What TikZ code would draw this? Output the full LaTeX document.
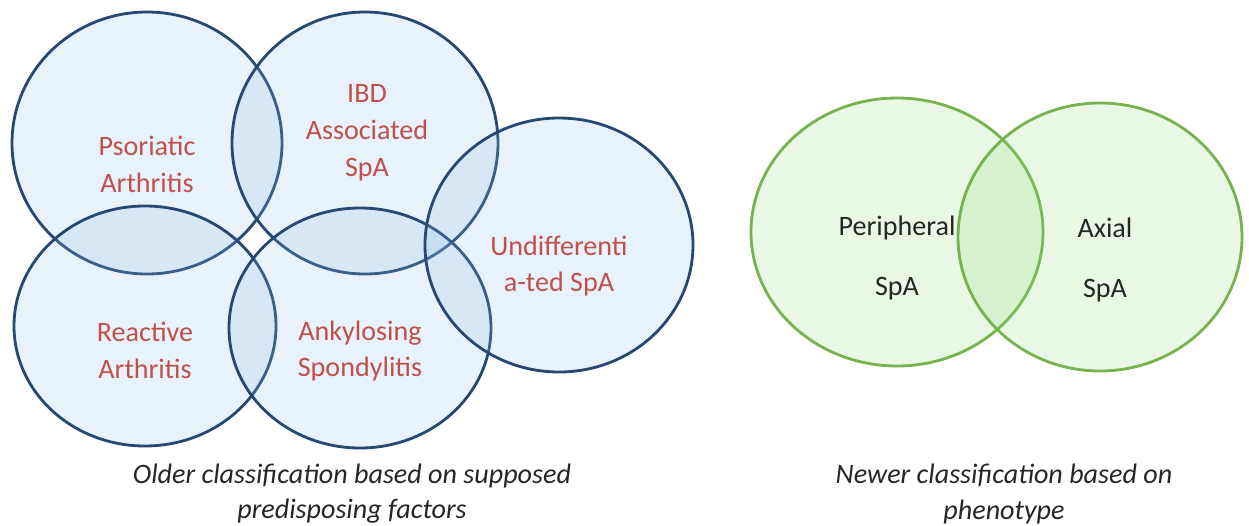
\documentclass[tikz,border=0pt]{standalone}
\usepackage{fontspec}
\setmainfont{Carlito}
\usepackage{xcolor}
\usepackage{tikz}
\usetikzlibrary{positioning}
\definecolor{vennblue}{RGB}{140,188,228}
\definecolor{vennedge}{RGB}{38,72,115}
\definecolor{venngreen}{RGB}{140,220,120}
\definecolor{greenedge}{RGB}{118,178,78}
\definecolor{labelred}{RGB}{192,80,77}
\definecolor{labeldark}{RGB}{38,38,38}

\begin{document}
\begin{tikzpicture}[
        x=0.02cm, y=-0.02cm,
        oldset/.style={draw=vennedge, line width=1.6pt, fill=vennblue, fill opacity=0.2},
        newset/.style={draw=greenedge, line width=1.6pt, fill=venngreen, fill opacity=0.2},
        oldlabel/.style={text=labelred, align=center, font=\fontsize{16}{21}\selectfont},
        newlabel/.style={text=labeldark, align=center, font=\fontsize{16}{34}\selectfont},
        caption/.style={text=labeldark, align=center, font=\fontsize{16}{20}\selectfont\itshape}
    ]
        \useasboundingbox (0,0) rectangle (1249,525);

        % older classification
        \draw[oldset] (147,143) ellipse [x radius=135, y radius=131];
        \draw[oldset] (365,143) ellipse [x radius=133, y radius=131];
        \draw[oldset] (145,326) ellipse [x radius=131, y radius=120];
        \draw[oldset] (360,328) ellipse [x radius=131, y radius=120];
        \draw[oldset] (559,245) ellipse [x radius=134, y radius=127];

        \node[oldlabel] (psa) at (147,164) {Psoriatic\\Arthritis};
        \node[oldlabel] (ibd) at (367,133) {IBD\\Associated\\SpA};
        \node[oldlabel] (react) at (145,350) {Reactive\\Arthritis};
        \node[oldlabel] (ankyl) at (360,351) {Ankylosing\\Spondylitis};
        \node[oldlabel] (undiff) at (559,266) {Undifferenti\\a-ted SpA};

        % newer classification
        \draw[newset] (897,232) ellipse [x radius=146, y radius=134];
        \draw[newset] (1100,237) ellipse [x radius=142, y radius=134];

        \node[newlabel] (periph) at (897,258) {Peripheral\\SpA};
        \node[newlabel] (axial) at (1105,260) {Axial\\SpA};

        % captions
        \node[caption] (oldcap) at (352,494) {Older classification based on supposed\\predisposing factors};
        \node[caption] (newcap) at (1004,494) {Newer classification based on\\phenotype};
    \end{tikzpicture}
\end{document}
